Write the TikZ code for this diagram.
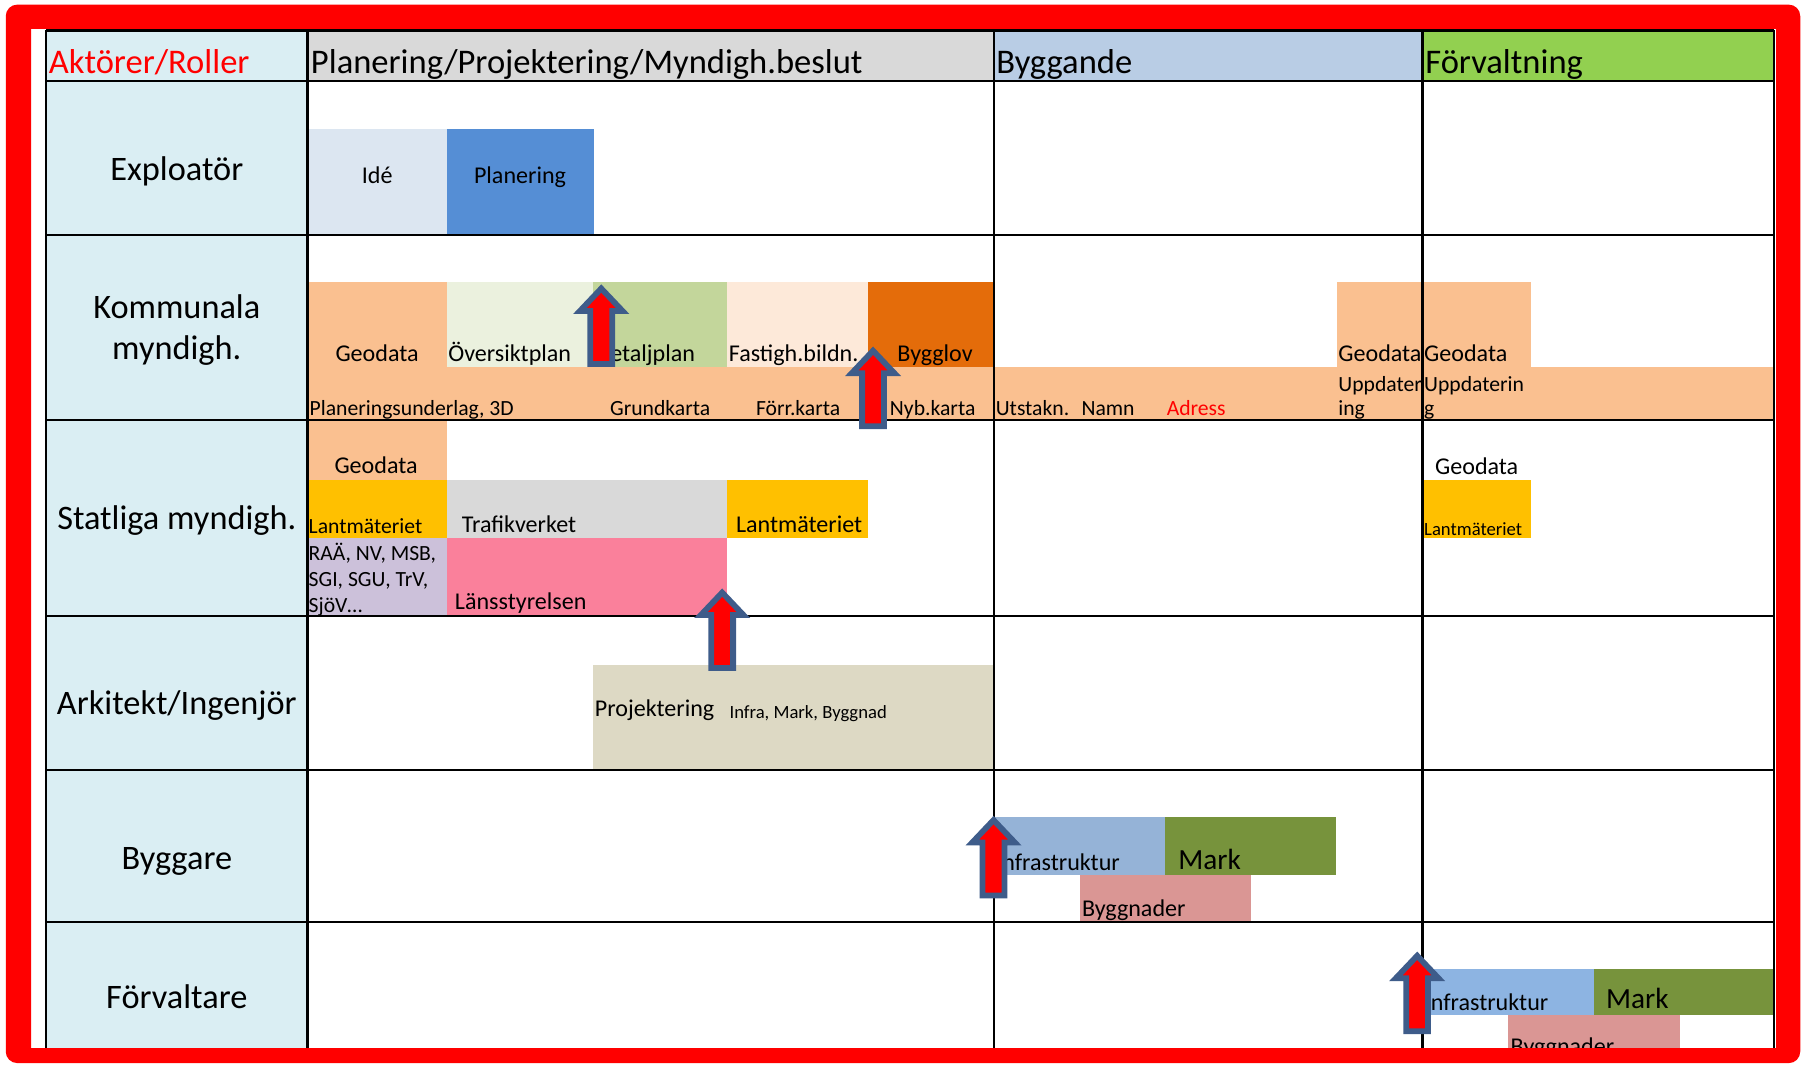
\documentclass[tikz,border=0pt]{standalone}
\usepackage{fontspec}
\setmainfont{Carlito}
\definecolor{lblue}{HTML}{DAEEF3}
\definecolor{hgray}{HTML}{D9D9D9}
\definecolor{hbyg}{HTML}{B9CDE5}
\definecolor{hforv}{HTML}{92D050}
\definecolor{idec}{HTML}{DCE6F1}
\definecolor{planc}{HTML}{558ED5}
\definecolor{orl}{HTML}{FAC090}
\definecolor{oversc}{HTML}{EBF1DE}
\definecolor{detc}{HTML}{C3D69B}
\definecolor{fastc}{HTML}{FDE9D9}
\definecolor{bygc}{HTML}{E46C0A}
\definecolor{lantc}{HTML}{FFC000}
\definecolor{trafc}{HTML}{D9D9D9}
\definecolor{raac}{HTML}{CCC1DA}
\definecolor{lansc}{HTML}{FA809B}
\definecolor{projc}{HTML}{DDD9C4}
\definecolor{infc}{HTML}{95B3D7}
\definecolor{infc2}{HTML}{8DB4E2}
\definecolor{markc}{HTML}{77933C}
\definecolor{byggnc}{HTML}{DA9694}
\definecolor{arrblue}{RGB}{62,92,138}
\tikzset{
  tx/.style={inner sep=0pt, outer sep=0pt, anchor=base west},
  hdr/.style={tx, font=\fontsize{30}{36}\selectfont},
  lbl/.style={inner sep=0pt, outer sep=0pt, anchor=base, font=\fontsize{29.8}{36}\selectfont},
  bt/.style={tx, font=\fontsize{20.9}{25}\selectfont},
  st/.style={tx, font=\fontsize{18.8}{22}\selectfont},
  xs/.style={tx, font=\fontsize{16.2}{19}\selectfont},
  bigt/.style={tx, font=\fontsize{25.4}{30}\selectfont},
  gridline/.style={line width=2.2pt, black},
  blockarrow/.style={fill=red, draw=arrblue, line width=5pt, line join=miter},
  uparrow/.pic={\path[blockarrow] (0,3.5) -- (18.5,23) -- (9.5,23) -- (9.5,69) -- (-9.5,69) -- (-9.5,23) -- (-18.5,23) -- cycle;}
}
\begin{document}
\begin{tikzpicture}[x=1pt,y=-1pt]
\useasboundingbox (0,0) rectangle (1568,925);
\fill[white] (0,0) rectangle (1568,925);
% header and label column
\fill[lblue] (40,26) rectangle (267,910);
\fill[hgray] (267,26) rectangle (863,70);
\fill[hbyg] (863,26) rectangle (1235,70);
\fill[hforv] (1235,26) rectangle (1540,70);
% Exploator
\fill[idec] (267,112) rectangle (388,204);
\fill[planc] (388,112) rectangle (515.5,204);
% Kommunala
\fill[orl] (267,319) rectangle (1540,365);
\fill[orl] (267,245) rectangle (388,319);
\fill[oversc] (388,245) rectangle (515,319);
\fill[detc] (515,245) rectangle (631,319);
\fill[fastc] (631,245) rectangle (754,319);
\fill[bygc] (754,245) rectangle (863,319);
\fill[orl] (1161,245) rectangle (1329,319);
% Statliga
\fill[orl] (267,365) rectangle (388,417);
\fill[lantc] (267,417) rectangle (388,467);
\fill[trafc] (388,417) rectangle (631,467);
\fill[lantc] (631,417) rectangle (754,467);
\fill[raac] (267,467) rectangle (388,535);
\fill[lansc] (388,467) rectangle (631,535);
\fill[lantc] (1235.5,417) rectangle (1329,467.5);
% Arkitekt
\fill[projc] (515,577) rectangle (862,669);
% Byggare
\fill[infc] (863,709) rectangle (1011.5,760);
\fill[markc] (1011.5,709) rectangle (1160,760);
\fill[byggnc] (938,760) rectangle (1086.5,800);
% Forvaltare
\fill[infc2] (1235,841) rectangle (1383.5,881.5);
\fill[markc] (1383.5,841) rectangle (1540,881.5);
\fill[byggnc] (1309,881.5) rectangle (1458.5,910);
% grid
\foreach \yy in {26.5,70.5,204,364.5,535,668.5,800.5}
  \draw[gridline] (40,\yy) -- (1540,\yy);
\foreach \xx in {40,267,863,1235,1540}
  \draw[gridline] (\xx,26) -- (\xx,910);
% header texts
\node[hdr, text=red] (hAkt) at (42.5,64) {Aktörer/Roller};
\node[hdr] (hPlan) at (270,64) {Planering/Projektering/Myndigh.beslut};
\node[hdr] (hByg) at (865,64) {Byggande};
\node[hdr] (hForv) at (1237.5,64) {Förvaltning};
% row labels
\node[lbl] (lExp) at (153.5,156.5) {Exploatör};
\node[lbl] (lKom1) at (153.5,276.5) {Kommunala};
\node[lbl] (lKom2) at (153.5,312.5) {myndigh.};
\node[lbl] (lStat) at (153.5,460) {Statliga myndigh.};
\node[lbl] (lArk) at (153.5,620.5) {Arkitekt/Ingenjör};
\node[lbl] (lByg) at (153.5,754.5) {Byggare};
\node[lbl] (lForv) at (153.5,875.5) {Förvaltare};
% Exploator texts
\node[bt, anchor=base] (tIde) at (327.5,159) {Idé};
\node[bt, anchor=base] (tPlan) at (451.5,159) {Planering};
% Kommunala texts
\node[bt, anchor=base] (tGeo1) at (327.4,314) {Geodata};
\node[bt] (tOver) at (389.3,314) {Översiktplan};
\node[bt] (tDet) at (517,314) {Detaljplan};
\node[bt] (tFast) at (632.8,314) {Fastigh.bildn.};
\node[bt, anchor=base] (tBygl) at (811.8,314) {Bygglov};
\node[bt] (tGeo2) at (1162,314) {Geodata};
\node[bt] (tGeo3) at (1236.5,314) {Geodata};
\node[st] (tPlu) at (268.9,360.5) {Planeringsunderlag, 3D};
\node[st] (tGrund) at (529.7,360.5) {Grundkarta};
\node[st] (tForr) at (656.4,360.5) {Förr.karta};
\node[st] (tNyb) at (772.7,360.5) {Nyb.karta};
\node[st] (tUts) at (864.6,360.5) {Utstakn.};
\node[st] (tNamn) at (939,360.5) {Namn};
\node[st, text=red] (tAdr) at (1013,360.5) {Adress};
\node[st] (tUpp1a) at (1162,339.5) {Uppdater};
\node[st] (tUpp1b) at (1162,361) {ing};
\node[st] (tUpp2a) at (1236.5,339.5) {Uppdaterin};
\node[st] (tUpp2b) at (1236.5,361) {g};
% Statliga texts
\node[bt, anchor=base] (tGeoS) at (326.5,411) {Geodata};
\node[st] (tLant1) at (268,463.5) {Lantmäteriet};
\node[bt] (tTraf) at (401,462.5) {Trafikverket};
\node[bt] (tLant2) at (639,462.5) {Lantmäteriet};
\node[st] (tRaa1) at (268,486.8) {RAÄ, NV, MSB,};
\node[st] (tRaa2) at (268,509.2) {SGI, SGU, TrV,};
\node[st] (tRaa3) at (268,531.4) {SjöV…};
\node[bt] (tLans) at (395,529.6) {Länsstyrelsen};
\node[bt] (tGeoF) at (1246,411.8) {Geodata};
\node[xs] (tLantF) at (1236.5,464.8) {Lantmäteriet};
% Arkitekt texts
\node[bt] (tProj) at (516.5,622.2) {Projektering};
\node[xs] (tInfraMB) at (633.4,623.5) {Infra, Mark, Byggnad};
% Byggare texts
\node[bt] (tInf1) at (865,756.2) {Infrastruktur};
\node[bigt] (tMark1) at (1023,755.3) {Mark};
\node[bt] (tByggn1) at (939.4,795.8) {Byggnader};
% Forvaltare texts
\node[bt] (tInf2) at (1237,877.7) {Infrastruktur};
\node[bigt] (tMark2) at (1394.4,876) {Mark};
\node[bt] (tByggn2) at (1311.6,915.5) {Byggnader};
% block arrows
\pic (arr1) at (522,247) {uparrow};
\pic (arr2) at (758,301) {uparrow};
\pic (arr3) at (627,511) {uparrow};
\pic (arr4) at (862.6,708.5) {uparrow};
\pic (arr5) at (1230.4,826.3) {uparrow};
% red frame
\fill[red, even odd rule] [rounded corners=10pt] (5,4) rectangle (1563,923) [sharp corners] (27,25) rectangle (1542,910);
\end{tikzpicture}
\end{document}
